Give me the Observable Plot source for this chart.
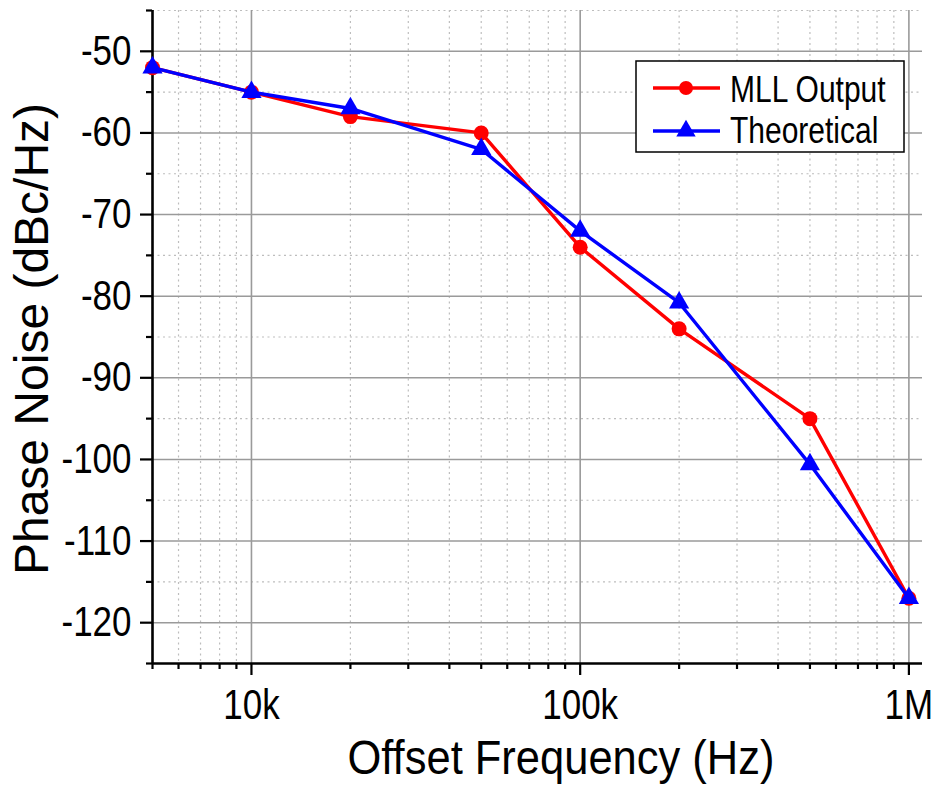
<!DOCTYPE html>
<html>
<head>
<meta charset="utf-8">
<script src="https://cdn.jsdelivr.net/npm/d3@7"></script>
<script src="https://cdn.jsdelivr.net/npm/@observablehq/plot@0.6"></script>
<style>
  html, body { margin: 0; padding: 0; background: #fff; }
  svg { display: block; }
</style>
</head>
<body>
<div id="chart"></div>
<script>
// ---- data ----
const seriesNames = ["MLL Output", "Theoretical"];
const freqs = [5000, 10000, 20000, 50000, 100000, 200000, 500000, 1000000];
const mllOutput = [-52, -55, -58, -60, -74, -84, -95, -117];
const theoretical = [-52, -55, -57, -62, -72, -80.8, -100.6, -117];

const majorX = [10000, 100000, 1000000];
const xTickLabels = ["10k", "100k", "1M"];
const minorX = [5000, 6000, 7000, 8000, 9000,
  20000, 30000, 40000, 50000, 60000, 70000, 80000, 90000,
  200000, 300000, 400000, 500000, 600000, 700000, 800000, 900000];
const majorY = [-50, -60, -70, -80, -90, -100, -110, -120];
const minorY = [-45, -55, -65, -75, -85, -95, -105, -115, -125];

const xLabel = "Offset Frequency (Hz)";
const yLabel = "Phase Noise (dBc/Hz)";

const mllRows = freqs.map((f, i) => ({f, v: mllOutput[i], s: seriesNames[0]}));
const thRows = freqs.map((f, i) => ({f, v: theoretical[i], s: seriesNames[1]}));

const FONT = "'Liberation Sans', Arial, Helvetica, sans-serif";

const plot = Plot.plot({
  width: 936,
  height: 794,
  marginLeft: 152,
  marginRight: 14,
  marginTop: 10,
  marginBottom: 131,
  x: {type: "log", domain: [5000, 1.1e6]},
  y: {domain: [-125, -45]},
  style: {fontFamily: FONT, background: "white", color: "black", overflow: "visible"},
  marks: [
    Plot.ruleX(minorX, {stroke: "#bdbdbd", strokeWidth: 1.2, strokeDasharray: "2,3.5"}),
    Plot.ruleY(minorY.filter(d => d > -125), {stroke: "#bdbdbd", strokeWidth: 1.2, strokeDasharray: "2,3.5"}),
    Plot.ruleX(majorX, {stroke: "#9a9a9a", strokeWidth: 1.6}),
    Plot.ruleY(majorY, {stroke: "#9a9a9a", strokeWidth: 1.6}),
    Plot.axisX(majorX, {tickSize: 12, tickPadding: 14, fontSize: 35, strokeWidth: 2.2, stroke: "black",
      tickFormat: d => xTickLabels[majorX.indexOf(d)], label: null, className: "tl"}),
    Plot.axisX(minorX, {tickSize: 6, strokeWidth: 2.2, stroke: "black", tickFormat: () => "", label: null}),
    Plot.axisY(majorY, {tickSize: 12, tickPadding: 9, fontSize: 35, strokeWidth: 2.2, stroke: "black",
      tickFormat: d => String(d), label: null, className: "tl"}),
    Plot.axisY(minorY, {tickSize: 6, strokeWidth: 2.2, stroke: "black", tickFormat: () => "", label: null}),
    Plot.ruleY([-125], {stroke: "black", strokeWidth: 2.6}),
    Plot.ruleX([5000], {stroke: "black", strokeWidth: 2.6}),
    Plot.line(mllRows, {x: "f", y: "v", stroke: "#ff0000", strokeWidth: 3.4}),
    Plot.dot(mllRows, {x: "f", y: "v", r: 7.5, fill: "#ff0000", symbol: "circle"}),
    Plot.line(thRows, {x: "f", y: "v", stroke: "#0000ff", strokeWidth: 3.4}),
    Plot.dot(thRows, {x: "f", y: "v", r: 7.5, fill: "#0000ff", symbol: "triangle"})
  ]
});

document.getElementById("chart").appendChild(plot);

const svg = d3.select(plot);

// the reference's lettering is taller than it is wide: stretch tick labels vertically
svg.selectAll("g.tl text").each(function () {
  const t = this.getAttribute("transform") || "";
  this.setAttribute("transform", t + " scale(1,1.2)");
});

// axis titles
svg.append("text")
  .attr("transform", "translate(561,774) scale(1,1.1)")
  .attr("text-anchor", "middle")
  .attr("font-family", FONT).attr("font-size", 43.5).attr("fill", "black")
  .text(xLabel);
svg.append("text")
  .attr("transform", "translate(48,339) rotate(-90)")
  .attr("text-anchor", "middle")
  .attr("font-family", FONT).attr("font-size", 48).attr("fill", "black")
  .text(yLabel);

// legend
const lg = svg.append("g");
lg.append("rect").attr("x", 636).attr("y", 61).attr("width", 268).attr("height", 91)
  .attr("fill", "white").attr("stroke", "black").attr("stroke-width", 1.5);
const legendItems = [
  {name: seriesNames[0], color: "#ff0000", sym: "circle", y: 88, base: 102},
  {name: seriesNames[1], color: "#0000ff", sym: "triangle", y: 131, base: 143}
];
legendItems.forEach(it => {
  lg.append("line").attr("x1", 653).attr("x2", 720).attr("y1", it.y).attr("y2", it.y)
    .attr("stroke", it.color).attr("stroke-width", 3.4);
  if (it.sym === "circle") {
    lg.append("circle").attr("cx", 686).attr("cy", it.y).attr("r", 7).attr("fill", it.color);
  } else {
    lg.append("path").attr("transform", `translate(686,${it.y})`)
      .attr("d", d3.symbol(d3.symbolTriangle, Math.PI * 7.2 * 7.2)()).attr("fill", it.color);
  }
  lg.append("text")
    .attr("transform", `translate(730,${it.base}) scale(1,1.2)`)
    .attr("text-anchor", "start")
    .attr("font-family", FONT).attr("font-size", 30).attr("fill", "black")
    .text(it.name);
});
</script>
</body>
</html>
